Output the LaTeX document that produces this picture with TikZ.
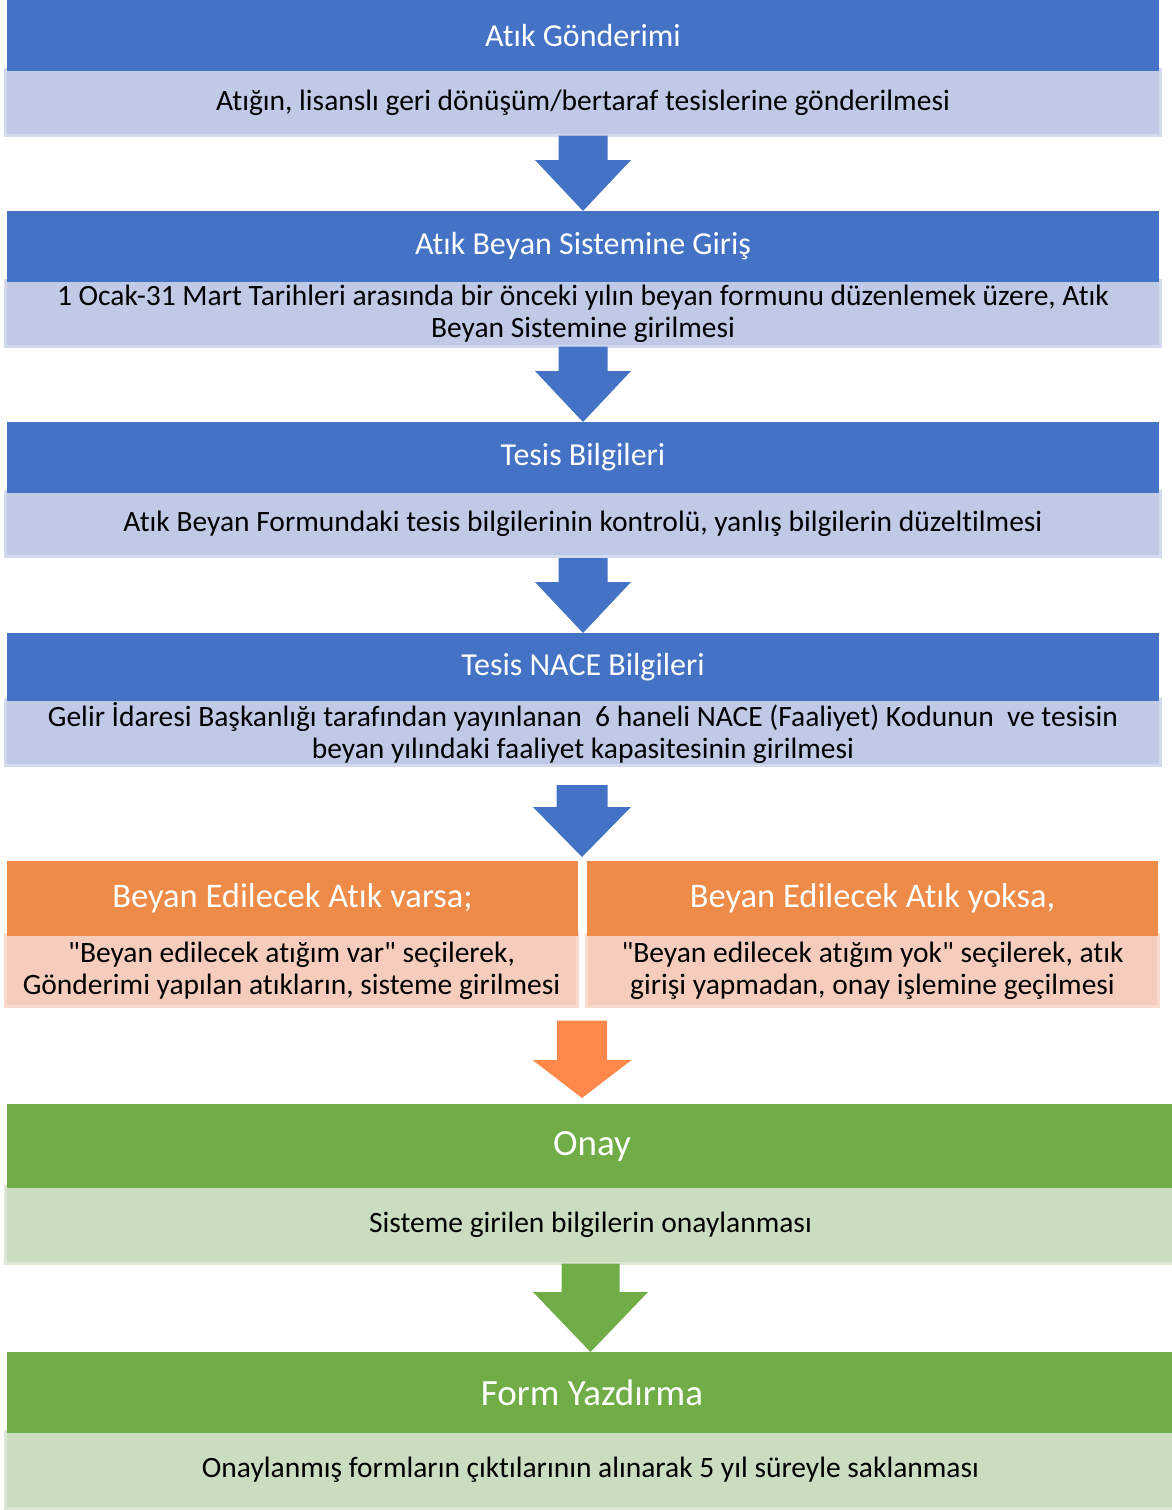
\documentclass[tikz,border=0pt]{standalone}
\usepackage{fontspec}
\setmainfont{Carlito}[Ligatures={NoCommon}]
\newfontfamily\qfnt{Carlito}[Ligatures={NoCommon}]
\usetikzlibrary{calc}
\definecolor{hblue}{HTML}{4472C4}
\definecolor{bblue}{HTML}{C0CAE6}
\definecolor{eblue}{HTML}{D4DAEE}
\definecolor{horange}{HTML}{EE8B48}
\definecolor{borange}{HTML}{F6CDBC}
\definecolor{eorange}{HTML}{F9DACD}
\definecolor{aorange}{HTML}{FF884A}
\definecolor{hgreen}{HTML}{70AD47}
\definecolor{bgreen}{HTML}{CADDC1}
\definecolor{egreen}{HTML}{DCE8D5}
\newcommand\blkarrow[6]{%
  \fill[#1] let \p1=#2, \p2=#3 in
    (\x1-#4pt,\y1) -- (\x1+#4pt,\y1) -- (\x1+#4pt,\y2+#6pt) -- (\x1+#5pt,\y2+#6pt)
    -- (\x1,\y2) -- (\x1-#5pt,\y2+#6pt) -- (\x1-#4pt,\y2+#6pt) -- cycle;}
\newcommand\dq{{\qfnt\symbol{34}}}
\begin{document}
\begin{tikzpicture}[x=1pt,y=-1pt,
  hdr/.style={rectangle, inner sep=0pt, outer sep=0pt, anchor=north west, text=white,
    font=\fontsize{32}{36}\selectfont},
  band/.style={rectangle, inner sep=0pt, outer sep=0pt, anchor=north west, line width=3pt,
    text=black, align=center, font=\fontsize{29.5}{32}\selectfont},
  bandb/.style={band, fill=bblue, draw=eblue},
  bando/.style={band, fill=borange, draw=eorange},
  bandg/.style={band, fill=bgreen, draw=egreen},
  ]
\useasboundingbox (0,0) rectangle (1171,1510);
% blue bands
\node[bandb, minimum width=1155pt, minimum height=66pt] (b1) at (5.5,69.5) {Atığın, lisanslı geri dönüşüm/bertaraf tesislerine gönderilmesi};
\node[hdr, fill=hblue, minimum width=1152pt, minimum height=71pt] (h1) at (7,0) {Atık Gönderimi};
\node[bandb, minimum width=1155pt, minimum height=66pt] (b2) at (5.5,280.5) {1 Ocak-31 Mart Tarihleri arasında bir önceki yılın beyan formunu düzenlemek üzere, Atık\\Beyan Sistemine girilmesi};
\node[hdr, fill=hblue, minimum width=1152pt, minimum height=71pt] (h2) at (7,211) {Atık Beyan Sistemine Giriş};
\node[bandb, minimum width=1155pt, minimum height=65pt] (b3) at (5.5,491.5) {Atık Beyan Formundaki tesis bilgilerinin kontrolü, yanlış bilgilerin düzeltilmesi};
\node[hdr, fill=hblue, minimum width=1152pt, minimum height=71pt] (h3) at (7,422) {Tesis Bilgileri};
\node[bandb, minimum width=1155pt, minimum height=66pt] (b4) at (5.5,699.5) {Gelir İdaresi Başkanlığı tarafından yayınlanan\ \ 6 haneli NACE (Faaliyet) Kodunun\ \ ve tesisin\\beyan yılındaki faaliyet kapasitesinin girilmesi};
\node[hdr, fill=hblue, minimum width=1152pt, minimum height=68pt] (h4) at (7,633) {Tesis NACE Bilgileri};
% orange
\node[bando, minimum width=572pt, minimum height=72pt] (ob1) at (5.5,934.5) {\dq Beyan edilecek atığım var\dq{} seçilerek,\\Gönderimi yapılan atıkların, sisteme girilmesi};
\node[hdr, fill=horange, minimum width=571pt, minimum height=75pt, font=\fontsize{34.5}{38}\selectfont] (oh1) at (7,861) {Beyan Edilecek Atık varsa;};
\node[bando, minimum width=572pt, minimum height=72pt] (ob2) at (586.5,934.5) {\dq Beyan edilecek atığım yok\dq{} seçilerek, atık\\girişi yapmadan, onay işlemine geçilmesi};
\node[hdr, fill=horange, minimum width=571pt, minimum height=75pt, font=\fontsize{34.5}{38}\selectfont] (oh2) at (587,861) {Beyan Edilecek Atık yoksa,};
% green
\node[bandg, minimum width=1170pt, minimum height=77pt] (gb1) at (5.5,1186.5) {Sisteme girilen bilgilerin onaylanması};
\node[hdr, fill=hgreen, minimum width=1170pt, minimum height=84pt, font=\fontsize{37}{40}\selectfont] (gh1) at (7,1104) {Onay};
\node[bandg, minimum width=1170pt, minimum height=77pt] (gb2) at (5.5,1431.5) {Onaylanmış formların çıktılarının alınarak 5 yıl süreyle saklanması};
\node[hdr, fill=hgreen, minimum width=1170pt, minimum height=81pt, font=\fontsize{37}{40}\selectfont] (gh2) at (7,1352) {Form Yazdırma};
% arrows
\blkarrow{hblue}{(b1.south)}{(h2.north)}{24.5}{48}{51}
\blkarrow{hblue}{(b2.south)}{(h3.north)}{24.5}{48}{51}
\blkarrow{hblue}{($(b3.south)+(0,1.5)$)}{(h4.north)}{24.5}{48}{51}
\blkarrow{hblue}{($(b4.south)+(-1,19.5)$)}{($(oh1.north)+(0,-4)$)}{25.5}{49}{50}
\blkarrow{aorange}{($(b4.south |- ob1.south)+(-1,14)$)}{($(gh1.north)+(0,-6)$)}{25}{49.5}{38}
\blkarrow{hgreen}{($(gb1.south)+(0,0)$)}{(gh2.north)}{29}{57.5}{60}
\end{tikzpicture}
\end{document}
